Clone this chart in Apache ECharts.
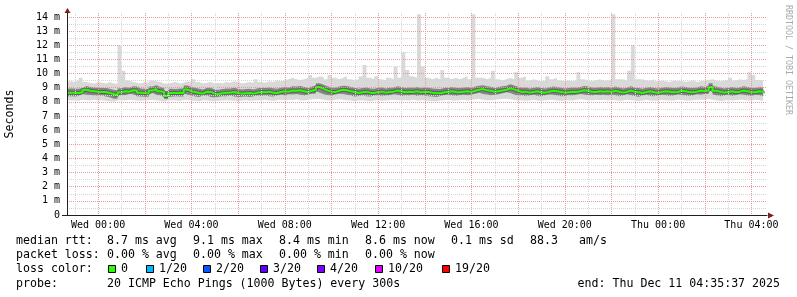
<!DOCTYPE html>
<html><head><meta charset="utf-8">
<script src="https://cdn.jsdelivr.net/npm/echarts@6/dist/echarts.min.js"></script>
<style>html,body{margin:0;padding:0;background:#fff}#c{width:797px;height:297px}</style>
</head><body><div id="c"></div>
<script>
// ---- time categories: 10-minute RRD steps from Tue 22:40 to Thu 04:40 ----
const dayNames = ['Tue', 'Wed', 'Thu'];
const startMinute = 22 * 60 + 40;
const stepMinutes = 10;
const categoryCount = 181;
const categories = [];
for (let i = 0; i < categoryCount; i++) {
  const t = startMinute + i * stepMinutes;
  const d = Math.floor(t / 1440), r = t % 1440;
  categories.push(dayNames[d] + ' ' + String(Math.floor(r / 60)).padStart(2, '0') + ':' + String(r % 60).padStart(2, '0'));
}

// ---- median RTT (ms) ----
const medianRtt = [
 8.65,8.65,8.62,8.68,8.85,8.78,8.75,8.72,8.70,8.70,
 8.62,8.55,8.45,8.68,8.75,8.72,8.82,8.80,8.65,8.62,
 8.60,8.80,8.92,8.75,8.70,8.42,8.62,8.62,8.65,8.62,
 8.88,8.75,8.70,8.62,8.58,8.72,8.70,8.58,8.55,8.60,
 8.65,8.65,8.70,8.62,8.58,8.60,8.62,8.58,8.65,8.70,
 8.68,8.72,8.65,8.62,8.70,8.75,8.72,8.80,8.78,8.82,
 8.75,8.70,8.78,8.85,9.05,8.92,8.80,8.72,8.70,8.78,
 8.85,8.82,8.75,8.70,8.62,8.68,8.72,8.65,8.62,8.70,
 8.72,8.65,8.70,8.72,8.80,8.75,8.68,8.72,8.70,8.75,
 8.68,8.72,8.70,8.65,8.62,8.60,8.68,8.72,8.75,8.70,
 8.68,8.72,8.75,8.70,8.78,8.85,8.90,8.82,8.78,8.72,
 8.75,8.80,8.85,8.95,8.88,8.78,8.70,8.72,8.65,8.70,
 8.75,8.68,8.65,8.72,8.78,8.75,8.70,8.65,8.68,8.72,
 8.70,8.75,8.82,8.78,8.72,8.70,8.75,8.72,8.75,8.70,
 8.78,8.72,8.65,8.70,8.80,8.72,8.68,8.62,8.70,8.75,
 8.68,8.65,8.70,8.75,8.72,8.68,8.70,8.78,8.75,8.70,
 8.68,8.72,8.80,8.75,8.82,9.05,8.78,8.72,8.65,8.70,
 8.75,8.68,8.72,8.80,8.75,8.70,8.68,8.75,8.72,8.60
];
// ---- smoke: lowest ping, 25th pct, 75th pct, highest ping (ms) ----
const pingMin = [
 8.15,8.1,8.12,8.08,8.15,8.12,8.1,8.14,8.1,8.12,
 8.08,8.05,8.0,8.1,8.12,8.1,8.15,8.12,8.1,8.08,
 8.1,8.12,8.15,8.1,8.08,8.0,8.1,8.12,8.1,8.08,
 8.12,8.15,8.1,8.08,8.05,8.12,8.1,8.06,8.05,8.08,
 8.1,8.12,8.1,8.08,8.05,8.1,8.12,8.08,8.1,8.12,
 8.1,8.14,8.1,8.08,8.12,8.15,8.12,8.15,8.12,8.18,
 8.12,8.1,8.15,8.18,8.2,8.2,8.15,8.12,8.1,8.14,
 8.18,8.15,8.12,8.1,8.05,8.1,8.12,8.08,8.05,8.1,
 8.12,8.08,8.1,8.12,8.15,8.12,8.1,8.12,8.1,8.14,
 8.1,8.12,8.1,8.08,8.05,8.05,8.1,8.12,8.14,8.1,
 8.1,8.12,8.15,8.1,8.15,8.18,8.2,8.15,8.12,8.12,
 8.14,8.18,8.2,8.22,8.18,8.14,8.1,8.12,8.08,8.1,
 8.14,8.1,8.08,8.12,8.15,8.14,8.1,8.08,8.1,8.12,
 8.1,8.14,8.18,8.15,8.12,8.1,8.14,8.12,8.14,8.1,
 8.15,8.12,8.08,8.1,8.15,8.12,8.1,8.06,8.1,8.14,
 8.1,8.08,8.1,8.14,8.12,8.1,8.1,8.15,8.14,8.1,
 8.1,8.12,8.15,8.14,8.15,8.2,8.15,8.12,8.06,8.1,
 8.12,8.1,8.12,8.15,8.14,8.1,8.1,8.14,8.12,8.08
];
const pingP25 = [
 8.4,8.4,8.38,8.42,8.55,8.5,8.48,8.45,8.45,8.44,
 8.38,8.32,8.22,8.42,8.48,8.46,8.55,8.54,8.4,8.38,
 8.36,8.52,8.62,8.5,8.45,8.2,8.38,8.36,8.4,8.38,
 8.6,8.5,8.45,8.38,8.34,8.46,8.45,8.34,8.3,8.36,
 8.4,8.4,8.45,8.38,8.34,8.36,8.38,8.34,8.4,8.45,
 8.42,8.46,8.4,8.38,8.45,8.5,8.46,8.54,8.52,8.56,
 8.5,8.45,8.52,8.58,8.76,8.65,8.54,8.46,8.45,8.52,
 8.58,8.56,8.5,8.45,8.38,8.42,8.46,8.4,8.38,8.45,
 8.46,8.4,8.45,8.46,8.54,8.5,8.42,8.46,8.45,8.5,
 8.42,8.46,8.45,8.4,8.38,8.35,8.42,8.46,8.5,8.45,
 8.42,8.46,8.5,8.45,8.52,8.58,8.64,8.56,8.52,8.46,
 8.5,8.54,8.6,8.68,8.62,8.52,8.45,8.46,8.4,8.45,
 8.5,8.42,8.4,8.46,8.52,8.5,8.45,8.4,8.42,8.46,
 8.45,8.5,8.56,8.52,8.46,8.45,8.5,8.46,8.5,8.45,
 8.52,8.46,8.4,8.45,8.54,8.46,8.42,8.36,8.45,8.5,
 8.42,8.4,8.45,8.5,8.46,8.42,8.45,8.52,8.5,8.45,
 8.42,8.46,8.54,8.5,8.56,8.78,8.52,8.46,8.4,8.45,
 8.5,8.42,8.46,8.54,8.5,8.45,8.42,8.5,8.46,8.4
];
const pingP75 = [
 8.95,8.94,8.92,8.98,9.12,9.05,9.02,9.0,8.98,8.98,
 8.92,8.86,8.8,8.96,9.04,9.0,9.1,9.08,8.94,8.92,
 8.9,9.08,9.18,9.04,8.98,8.76,8.92,8.9,8.94,8.92,
 9.15,9.04,9.0,8.92,8.88,9.0,9.0,8.88,8.86,8.9,
 8.94,8.95,9.0,8.92,8.88,8.9,8.92,8.88,8.96,9.0,
 8.98,9.02,8.96,8.92,9.0,9.05,9.02,9.1,9.08,9.12,
 9.05,9.0,9.08,9.15,9.32,9.2,9.1,9.02,9.0,9.08,
 9.14,9.12,9.05,9.0,8.92,8.98,9.02,8.95,8.92,9.0,
 9.02,8.95,9.0,9.02,9.1,9.05,8.98,9.02,9.0,9.05,
 8.98,9.02,9.0,8.95,8.92,8.9,8.98,9.02,9.05,9.0,
 8.98,9.02,9.05,9.0,9.08,9.14,9.18,9.1,9.06,9.0,
 9.04,9.1,9.14,9.24,9.16,9.06,9.0,9.02,8.95,9.0,
 9.05,8.98,8.95,9.02,9.08,9.05,9.0,8.95,8.98,9.02,
 9.0,9.05,9.12,9.08,9.02,9.0,9.05,9.02,9.05,9.0,
 9.08,9.02,8.95,9.0,9.1,9.02,8.98,8.92,9.0,9.05,
 8.98,8.95,9.0,9.05,9.02,8.98,9.0,9.08,9.05,9.0,
 8.98,9.02,9.1,9.05,9.12,9.32,9.08,9.02,8.95,9.0,
 9.05,8.98,9.02,9.1,9.05,9.0,8.98,9.05,9.02,8.95
];
const pingMax = [
 9.45,9.4,9.5,9.7,9.4,9.35,9.3,9.4,9.35,9.3,
 9.4,9.3,9.3,12.0,10.2,9.5,9.4,9.35,9.3,9.4,
 9.35,9.5,9.45,9.4,9.3,9.3,9.35,9.4,9.3,9.35,
 9.45,9.4,9.6,9.4,9.3,9.35,9.4,9.3,9.35,9.3,
 9.4,9.35,9.45,9.4,9.3,9.35,9.4,9.35,9.6,9.4,
 9.35,9.45,9.4,9.5,9.45,9.5,9.6,9.7,9.6,9.55,
 9.6,9.7,9.9,9.7,9.8,9.75,9.6,9.9,9.7,9.6,
 9.7,9.8,9.6,9.5,9.6,9.8,10.6,9.7,9.6,9.8,
 9.6,9.5,9.7,9.6,10.5,9.7,11.5,10.25,9.8,9.7,
 14.2,10.5,9.7,9.6,9.7,9.6,10.25,9.7,9.6,9.7,
 9.6,9.7,9.8,9.6,14.2,9.7,9.7,9.6,9.7,10.2,
 9.6,9.5,9.6,9.7,9.6,10.1,9.7,9.8,9.5,9.6,
 9.5,9.45,9.5,9.8,9.6,9.7,9.5,9.45,9.5,9.45,
 9.5,10.1,9.6,9.5,9.45,9.5,9.6,9.5,9.5,9.55,
 14.2,9.6,9.6,9.5,10.2,12.0,9.6,9.6,9.5,9.5,
 9.6,9.45,9.5,9.45,9.4,9.5,9.45,9.5,9.4,9.45,
 9.5,9.4,9.45,9.5,9.55,9.6,9.5,9.45,9.5,9.55,
 9.7,9.5,9.6,9.55,9.6,10.1,9.9,9.55,9.5,9.6
];

// ---- legend texts ----
const rttLabels = ['median rtt:', '8.7 ms avg', '9.1 ms max', '8.4 ms min', '8.6 ms now', '0.1 ms sd', '88.3', 'am/s'];
const lossLabels = ['packet loss:', '0.00 % avg', '0.00 % max', '0.00 % min', '0.00 % now'];
const lossColorLabels = ['0', '1/20', '2/20', '3/20', '4/20', '10/20', '19/20'];
const lossColors = ['#26ff00', '#00b8ff', '#0059ff', '#5e00ff', '#7e00ff', '#dd00ff', '#ff0000'];
const probeText = '20 ICMP Echo Pings (1000 Bytes) every 300s';
const endText = 'end: Thu Dec 11 04:35:37 2025';

// ---- layout / style ----
const MONO = "'DejaVu Sans Mono', monospace";
const GRID_C = '#d6d6d6';
const MGRID_C = '#e99a9a';
const AXIS_C = '#1f1f1f';
const ARROW_C = '#801f1f';
const G = {left: 67, top: 13, right: 767, bottom: 215};
const yMax = 14.28;

const outerBand = pingMax.map((v, i) => +(v - pingMin[i]).toFixed(3));
const midBand = pingP75.map((v, i) => +(v - pingP25[i]).toFixed(3));

// y split line colors: pink at whole ms, grey at half, none at top extent
const yGridColors = [];
for (let i = 0; i <= 28; i++) yGridColors.push(i % 2 ? GRID_C : MGRID_C);
yGridColors.push('rgba(0,0,0,0)');

const hourOf = v => parseInt(v.slice(4, 6), 10);

const hidden = {width: 0, opacity: 0};
const series = [
  {name: 'min', type: 'line', stack: 'outer', data: pingMin, step: 'end', symbol: 'none', lineStyle: hidden, silent: true, z: 1},
  {name: 'max', type: 'line', stack: 'outer', data: outerBand, step: 'end', symbol: 'none', lineStyle: hidden, areaStyle: {color: '#d9d9d9', opacity: 1}, silent: true, z: 1},
  {name: 'p25', type: 'line', stack: 'mid', data: pingP25, step: 'end', symbol: 'none', lineStyle: hidden, silent: true, z: 1},
  {name: 'p75', type: 'line', stack: 'mid', data: midBand, step: 'end', symbol: 'none', lineStyle: hidden, areaStyle: {color: '#858585', opacity: 1}, silent: true, z: 1},
  {name: 'core', type: 'line', data: medianRtt, step: 'end', symbol: 'none', lineStyle: {width: 4, color: '#3c3c3c', opacity: 0.5}, silent: true, z: 1},
  {name: 'median', type: 'line', data: medianRtt, step: 'end', symbol: 'none', lineStyle: {width: 2, color: lossColors[0]}, silent: true, z: 2}
];

// ---- graphic texts ----
const graphics = [];
function txt(x, y, s, opt) {
  graphics.push(Object.assign({type: 'text', x: x, y: y, silent: true,
    style: Object.assign({text: s, font: '11.6px ' + MONO, fill: '#000', textVerticalAlign: 'middle', textAlign: 'left'}, (opt && opt.style) || {})},
    opt && opt.el || {}));
}
const rowY = [241, 255.3, 269.3, 283.7];
const rttX = [16, 107, 193, 279, 365, 451, 530, 579];
rttLabels.forEach((s, i) => txt(rttX[i], rowY[0], s));
const lossX = [16, 107, 193, 279, 365];
lossLabels.forEach((s, i) => txt(lossX[i], rowY[1], s));
txt(16, rowY[2], 'loss color:');
const boxX = [108, 146, 203, 260, 317, 375, 442];
lossColorLabels.forEach((s, i) => {
  graphics.push({type: 'rect', silent: true, shape: {x: boxX[i] + 0.5, y: 265.5, width: 7, height: 7},
    style: {fill: lossColors[i], stroke: '#000', lineWidth: 1}});
  txt(boxX[i] + 13, rowY[2], s);
});
txt(16, rowY[3], 'probe:');
txt(107, rowY[3], probeText);
txt(780, rowY[3], endText, {style: {textAlign: 'right'}});
// axis title
txt(10, 114, 'Seconds', {style: {textAlign: 'center'}, el: {rotation: Math.PI / 2}});
// watermark
txt(788, 5, 'RRDTOOL / TOBI OETIKER', {style: {font: '8.3px ' + MONO, fill: '#aaaaaa'}, el: {rotation: -Math.PI / 2}});
// axis extensions and arrows
graphics.push({type: 'line', silent: true, shape: {x1: 62, y1: G.bottom + 0.5, x2: G.left, y2: G.bottom + 0.5}, style: {stroke: AXIS_C, lineWidth: 1}});
graphics.push({type: 'polygon', silent: true, shape: {points: [[G.left - 2.5, G.top], [G.left + 3.5, G.top], [G.left + 0.5, G.top - 5]]}, style: {fill: ARROW_C}});
graphics.push({type: 'polygon', silent: true, shape: {points: [[G.right + 1, G.bottom - 2.5], [G.right + 1, G.bottom + 3.5], [G.right + 7, G.bottom + 0.5]]}, style: {fill: ARROW_C}});

const chart = echarts.init(document.getElementById('c'), null, {renderer: 'canvas'});
chart.setOption({
  animation: false,
  backgroundColor: '#ffffff',
  grid: {left: G.left, top: G.top, width: G.right - G.left, height: G.bottom - G.top, containLabel: false},
  xAxis: {
    type: 'category', data: categories, boundaryGap: false, z: 3,
    axisLine: {show: true, lineStyle: {color: AXIS_C, width: 1}},
    axisTick: {show: false},
    axisLabel: {
      interval: (i, v) => v.endsWith(':00') && hourOf(v) % 4 === 0,
      fontFamily: MONO, fontSize: 10, color: '#000', margin: 5
    },
    splitLine: {show: true, interval: (i, v) => v.endsWith(':00'),
      lineStyle: {color: [GRID_C, MGRID_C], type: [1, 1], width: 1}}
  },
  yAxis: {
    type: 'value', min: 0, max: yMax, interval: 0.5, z: 3,
    axisLine: {show: true, lineStyle: {color: AXIS_C, width: 1}},
    axisTick: {show: false},
    axisLabel: {
      formatter: v => v === 0 ? '0' : (Math.abs(v - Math.round(v)) < 1e-9 && v <= 14 ? Math.round(v) + ' m' : ''),
      fontFamily: MONO, fontSize: 10, color: '#000', margin: 7
    },
    splitLine: {show: true, lineStyle: {color: yGridColors, type: [1, 1], width: 1}}
  },
  series: series,
  graphic: graphics
});
</script>
</body></html>
